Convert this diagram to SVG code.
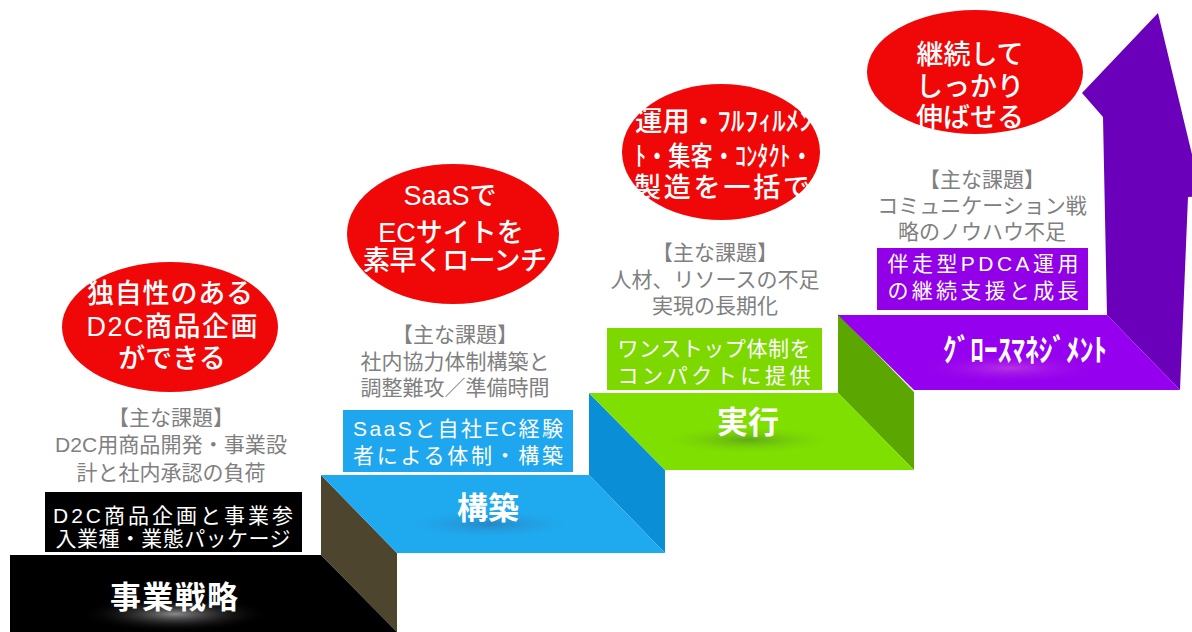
<svg xmlns="http://www.w3.org/2000/svg" width="1192" height="632" viewBox="0 0 1192 632">
<style>
.ell{fill:#f00808}
.et{font-family:"Liberation Sans","Noto Sans CJK JP",sans-serif;font-size:27px;font-weight:500;fill:#fff;text-anchor:middle}
.gt{font-family:"Liberation Sans","Noto Sans CJK JP",sans-serif;font-size:21px;fill:#808080;text-anchor:middle}
.bt{font-family:"Liberation Sans","Noto Sans CJK JP",sans-serif;font-size:21px;fill:#fff;text-anchor:middle}
.st{font-family:"Noto Sans CJK JP","Noto Sans",sans-serif;font-size:31px;font-weight:700;fill:#fff;text-anchor:middle}
</style>
<defs>
<radialGradient id="gW"><stop offset="0" stop-color="#9a9a9a" stop-opacity="0.9"/><stop offset="1" stop-color="#000" stop-opacity="0"/></radialGradient>
<radialGradient id="gB"><stop offset="0" stop-color="#2a7fb8" stop-opacity="0.8"/><stop offset="1" stop-color="#1faaf0" stop-opacity="0"/></radialGradient>
<radialGradient id="gG"><stop offset="0" stop-color="#5a9a20" stop-opacity="0.8"/><stop offset="1" stop-color="#7fe000" stop-opacity="0"/></radialGradient>
<radialGradient id="gP"><stop offset="0" stop-color="#c040e0" stop-opacity="0.8"/><stop offset="1" stop-color="#9500ee" stop-opacity="0"/></radialGradient>
</defs>
<rect width="1192" height="632" fill="#fff"/>

<g id="arrow">
<polygon points="1103,117 1082,93 1158,13 1202,196 1188,197 1180,390 1107,315" fill="#6b00bb"/>
</g>

<g id="step1">
<polygon points="321,475 397,553 397,632 321,555" fill="#4e452e"/>
<polygon points="10,555 321,555 397,632 10,632" fill="#000"/>
<ellipse cx="175" cy="614" rx="95" ry="18" fill="url(#gW)"/>
<text class="st" x="174" y="608" textLength="128">事業戦略</text>
<rect x="45" y="492" width="257" height="60" fill="#000"/>
<text class="bt"><tspan x="173" y="523" textLength="240" lengthAdjust="spacing">D2C商品企画と事業参</tspan><tspan x="173" y="546" textLength="235" lengthAdjust="spacing">入業種・業態パッケージ</tspan></text>
<text class="gt"><tspan x="171" y="425">【主な課題】</tspan><tspan x="171" y="452" textLength="232" lengthAdjust="spacingAndGlyphs">D2C用商品開発・事業設</tspan><tspan x="171" y="480">計と社内承認の負荷</tspan></text>
</g>

<g id="step2">
<polygon points="589,393 665,470 665,553 589,475" fill="#0a8fd6"/>
<polygon points="321,475 589,475 665,553 397,553" fill="#1faaf0"/>
<ellipse cx="490" cy="524" rx="95" ry="16" fill="url(#gB)"/>
<text class="st" x="488" y="519">構築</text>
<rect x="343" y="410" width="230" height="62" fill="#1ea7ee"/>
<text class="bt"><tspan x="458" y="436" textLength="210" lengthAdjust="spacing">SaaSと自社EC経験</tspan><tspan x="458" y="463" textLength="210" lengthAdjust="spacing">者による体制・構築</tspan></text>
<text class="gt"><tspan x="455" y="342">【主な課題】</tspan><tspan x="455" y="369">社内協力体制構築と</tspan><tspan x="455" y="395">調整難攻／準備時間</tspan></text>
</g>

<g id="step3">
<polygon points="838,314 914,392 914,470 838,393" fill="#5ba600"/>
<polygon points="589,393 838,393 914,470 665,470" fill="#7fe000"/>
<ellipse cx="748" cy="440" rx="95" ry="15" fill="url(#gG)"/>
<text class="st" x="748" y="433">実行</text>
<rect x="607" y="328" width="215" height="62" fill="#7dd800"/>
<text class="bt"><tspan x="714" y="356" textLength="193" lengthAdjust="spacing">ワンストップ体制を</tspan><tspan x="714" y="383" textLength="193" lengthAdjust="spacing">コンパクトに提供</tspan></text>
<text class="gt"><tspan x="715" y="260">【主な課題】</tspan><tspan x="715" y="287">人材、リソースの不足</tspan><tspan x="715" y="313">実現の長期化</tspan></text>
</g>

<g id="step4">
<polygon points="838,315 1107,315 1180,390 914,390" fill="#9500ee"/>
<ellipse cx="1010" cy="368" rx="95" ry="16" fill="url(#gP)"/>
<text class="st" x="1025" y="361" textLength="164" lengthAdjust="spacingAndGlyphs">ｸﾞﾛｰｽﾏﾈｼﾞﾒﾝﾄ</text>
<rect x="877" y="248" width="211" height="62" fill="#9200e8"/>
<text class="bt"><tspan x="983" y="271" textLength="191" lengthAdjust="spacing">伴走型PDCA運用</tspan><tspan x="983" y="298" textLength="191" lengthAdjust="spacing">の継続支援と成長</tspan></text>
<text class="gt"><tspan x="982" y="187">【主な課題】</tspan><tspan x="982" y="213">コミュニケーション戦</tspan><tspan x="982" y="239">略のノウハウ不足</tspan></text>
</g>

<g id="bubble1">
<ellipse class="ell" cx="170" cy="327" rx="108" ry="65"/>
<text class="et"><tspan x="170" y="303" textLength="166">独自性のある</tspan><tspan x="172" y="336" textLength="171">D2C商品企画</tspan><tspan x="172" y="368">ができる</tspan></text>
</g>
<g id="bubble2">
<ellipse class="ell" cx="453" cy="234" rx="106" ry="70"/>
<text class="et"><tspan x="450" y="205">SaaSで</tspan><tspan x="451" y="242">ECサイトを</tspan><tspan x="455" y="270" textLength="184">素早くローンチ</tspan></text>
</g>
<g id="bubble3">
<ellipse class="ell" cx="721" cy="152" rx="99" ry="68"/>
<text class="et"><tspan x="724" y="131" textLength="178" lengthAdjust="spacingAndGlyphs">運用・ﾌﾙﾌｨﾙﾒﾝ</tspan><tspan x="724" y="166" textLength="178" lengthAdjust="spacingAndGlyphs">ﾄ・集客・ｺﾝﾀｸﾄ・</tspan><tspan x="722" y="197" textLength="176">製造を一括で</tspan></text>
</g>
<g id="bubble4">
<ellipse class="ell" cx="975" cy="72" rx="108" ry="62"/>
<text class="et"><tspan x="970" y="64">継続して</tspan><tspan x="970" y="96">しっかり</tspan><tspan x="970" y="127">伸ばせる</tspan></text>
</g>
</svg>
